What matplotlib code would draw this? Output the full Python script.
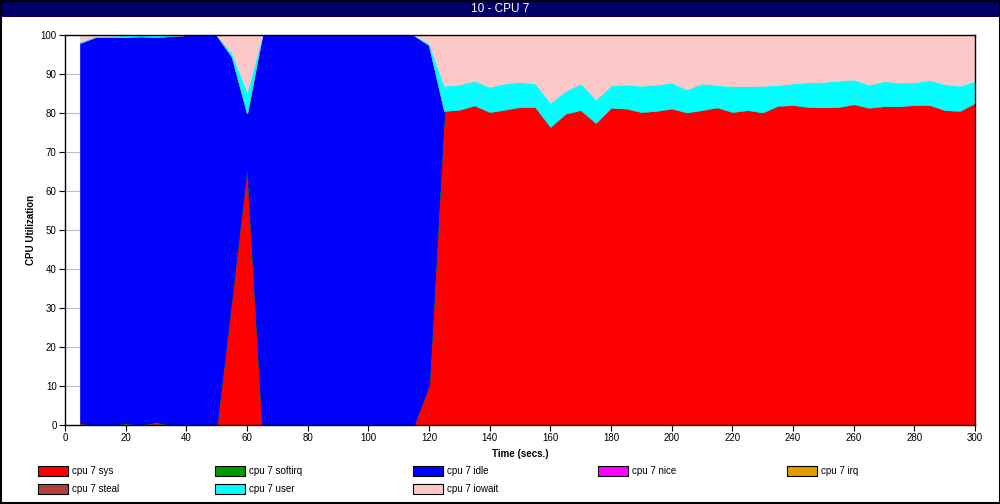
import matplotlib
matplotlib.use("Agg")
import matplotlib.pyplot as plt
from matplotlib.patches import Rectangle

plt.rcParams['font.family'] = ['Liberation Sans', 'DejaVu Sans']

# sample times (secs.)
time = list(range(5, 305, 5))

sys_pct = [0.5, 0, 0, 0.2, 0, 0.5, 0, 0, 0, 0,
           33.0, 66.5, 0, 0, 0, 0, 0, 0, 0, 0,
           0, 0, 0, 10.3, 80.6, 80.9, 82.0, 80.3, 80.9, 81.6,
           81.6, 76.5, 79.9, 80.8, 77.5, 81.4, 81.2, 80.3, 80.6, 81.2,
           80.2, 80.8, 81.5, 80.3, 80.8, 80.2, 81.9, 82.1, 81.6, 81.5,
           81.6, 82.3, 81.4, 81.8, 81.8, 82.1, 82.1, 80.8, 80.6, 82.6]
softirq_pct = [0, 0, 0, 0.3, 0, 0.3, 0, 0, 0, 0] + [0] * 50
idle_pct = [97.5, 99.5, 99.5, 99.0, 99.7, 98.7, 99.8, 100, 100, 100,
            61.4, 13.5, 100, 100, 100, 100, 100, 100, 100, 100,
            100, 100, 100, 87.1] + [0] * 36
nice_pct = [0] * 60
irq_pct = [0] * 60
steal_pct = [0] * 60
user_pct = [0.3, 0.2, 0.3, 0.5, 0.3, 0.5, 0.2, 0, 0, 0,
            1.0, 5.5, 0, 0, 0, 0, 0, 0, 0, 0,
            0, 0, 0, 0.5, 6.4, 6.4, 6.3, 6.4, 6.7, 6.4,
            6.0, 6.2, 5.8, 6.8, 6.0, 5.7, 6.1, 6.7, 6.7, 6.6,
            5.9, 6.8, 5.7, 6.6, 6.1, 6.8, 5.3, 5.5, 6.3, 6.5,
            6.7, 6.3, 5.9, 6.4, 6.0, 5.8, 6.4, 6.6, 6.4, 5.6]
iowait_pct = [1.7, 0.3, 0.2, 0, 0, 0, 0, 0, 0, 0,
              4.6, 14.5, 0, 0, 0, 0, 0, 0, 0, 0,
              0, 0, 0, 2.1, 13.0, 12.7, 11.7, 13.3, 12.4, 12.0,
              12.4, 17.3, 14.3, 12.4, 16.5, 12.9, 12.7, 13.0, 12.7, 12.2,
              13.9, 12.4, 12.8, 13.1, 13.1, 13.0, 12.8, 12.4, 12.1, 12.0,
              11.7, 11.4, 12.7, 11.8, 12.2, 12.1, 11.5, 12.6, 13.0, 11.8]

labels = ['cpu 7 sys', 'cpu 7 softirq', 'cpu 7 idle', 'cpu 7 nice',
          'cpu 7 irq', 'cpu 7 steal', 'cpu 7 user', 'cpu 7 iowait']
colors = ['#ff0000', '#009900', '#0000ff', '#ff00ff',
          '#e09e00', '#b04040', '#00ffff', '#ffc8c8']

fig = plt.figure(figsize=(10, 5.04), dpi=100)

# title bar + outer frame
fig.add_artist(Rectangle((0, 1 - 17 / 504), 1, 17 / 504, transform=fig.transFigure,
                         facecolor='#000066', edgecolor='none'))
fig.add_artist(Rectangle((0.0005, 0.001), 0.999, 0.998, transform=fig.transFigure,
                         facecolor='none', edgecolor='black', linewidth=1.5))
fig.text(0.5, 1 - 8.5 / 504, '10 - CPU 7', color='white', ha='center', va='center',
         fontsize=8.5)

ax = fig.add_axes([0.065, 1 - 425 / 504, 0.91, 390 / 504])
ax.stackplot(time, sys_pct, softirq_pct, idle_pct, nice_pct, irq_pct, steal_pct,
             user_pct, iowait_pct, colors=colors, labels=labels, linewidth=0.6)
for c in ax.collections:
    c.set_edgecolor(c.get_facecolor())

ax.set_xlim(0, 300)
ax.set_ylim(0, 100)
ax.set_xticks(range(0, 301, 20))
ax.set_yticks(range(0, 101, 10))
ax.tick_params(labelsize=7, length=4, width=0.8, pad=2)
ax.grid(axis='y', color='#c0c0c0', linewidth=0.8)
ax.set_axisbelow(True)
for s in ax.spines.values():
    s.set_linewidth(1.0)
ax.set_xlabel('Time (secs.)', fontsize=7, fontweight='bold', labelpad=4)
ax.set_ylabel('CPU Utilization', fontsize=7, fontweight='bold', labelpad=3)

# legend laid out as in the reference: 5 columns, 2 rows
col_x = [38, 215, 413, 598, 787]
row_y = [471, 489]
for i, (lab, col) in enumerate(zip(labels, colors)):
    r, c = divmod(i, 5)
    x0 = col_x[c] / 1000
    y0 = 1 - (row_y[r] + 5) / 504
    fig.add_artist(Rectangle((x0, y0), 30 / 1000, 10 / 504, transform=fig.transFigure,
                             facecolor=col, edgecolor='black', linewidth=0.8))
    fig.text(x0 + 34 / 1000, 1 - row_y[r] / 504, lab, fontsize=7, va='center', ha='left')

fig.savefig('out.png', dpi=100)
